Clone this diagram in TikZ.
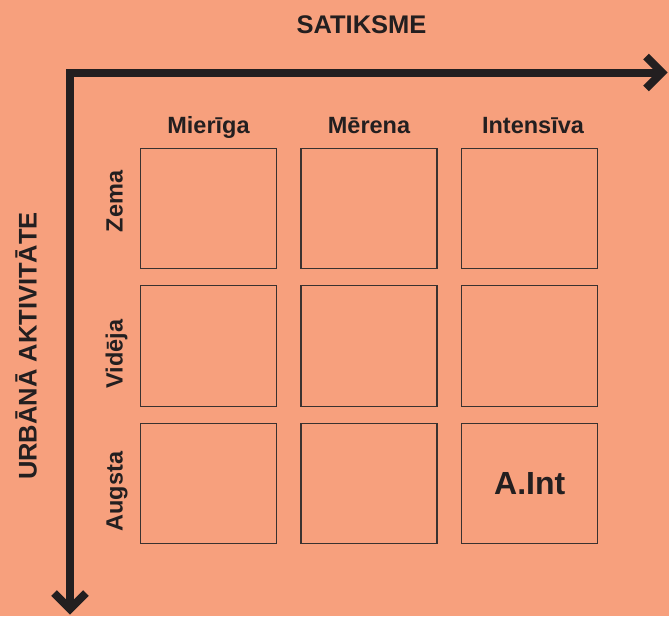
\documentclass[tikz,border=0pt]{standalone}
\usepackage{fontspec}
\setmainfont{Liberation Sans}
\definecolor{bg}{HTML}{F7A07D}
\definecolor{ink}{HTML}{231F20}
\definecolor{boxline}{HTML}{3A3230}
\begin{document}
\begin{tikzpicture}[x=1pt,y=-1pt,
  axis/.style={draw=ink,line width=8pt,line join=miter,line cap=butt},
  cell/.style={draw=boxline,line width=1.3pt,minimum width=136pt,minimum height=120.5pt,inner sep=0pt,text=ink},
  collab/.style={anchor=base,text=ink,font=\fontsize{23.5}{28}\selectfont\bfseries,inner sep=0pt},
  rowlab/.style={anchor=base,rotate=90,text=ink,font=\fontsize{23.5}{28}\selectfont\bfseries,inner sep=0pt},
  title/.style={anchor=base,text=ink,font=\fontsize{25.5}{30}\selectfont\bfseries,inner sep=0pt}]
\useasboundingbox (0,0) rectangle (669,616);
\fill[bg] (0,0) rectangle (669,616);
% axes
\coordinate (corner) at (70,72.5);
\coordinate (xend) at (662,72.5);
\coordinate (yend) at (70,609);
\draw[axis] (xend) -- (corner) -- (yend);
\draw[axis] (646,56.5) -- (xend) -- (646,88.5);
\draw[axis] (54,593) -- (yend) -- (86,593);
% titles
\node[title] (tx) at (361.5,33) {SATIKSME};
\node[title,rotate=90] (ty) at (36.5,346) {URBĀNĀ AKTIVITĀTE};
% cells
\node[cell] (c11) at (208.5,208.5) {};
\node[cell] (c12) at (369,208.5) {};
\node[cell] (c13) at (529.75,208.5) {};
\node[cell] (c21) at (208.5,346) {};
\node[cell] (c22) at (369,346) {};
\node[cell] (c23) at (529.75,346) {};
\node[cell] (c31) at (208.5,483.5) {};
\node[cell] (c32) at (369,483.5) {};
\node[cell,font=\fontsize{32}{38}\selectfont\bfseries] (c33) at (529.75,483.5) {A.Int};
% column labels
\node[collab] (l1) at (208.5,133) {Mierīga};
\node[collab] (l2) at (369,133) {Mērena};
\node[collab] (l3) at (533,133) {Intensīva};
% row labels
\node[rowlab] (r1) at (122.5,201.5) {Zema};
\node[rowlab] (r2) at (122.5,354) {Vidēja};
\node[rowlab] (r3) at (122.5,491.5) {Augsta};
\end{tikzpicture}
\end{document}
